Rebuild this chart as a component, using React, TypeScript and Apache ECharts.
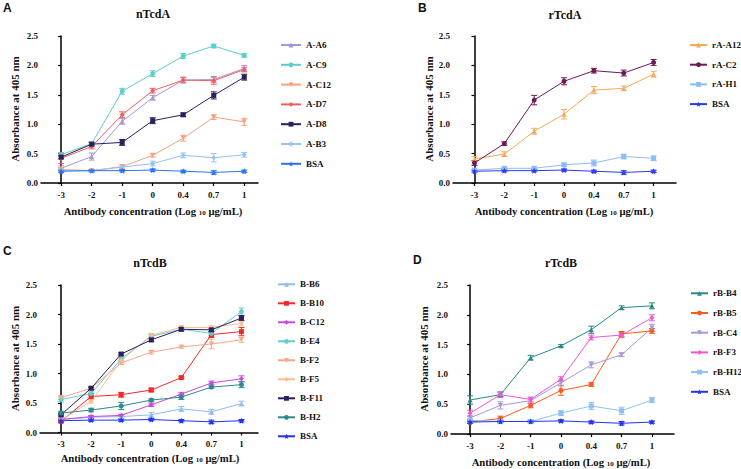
import React, { useEffect, useRef } from "react";
import * as echarts from "echarts";

const xLabels = ["-3", "-2", "-1", "0", "0.4", "0.7", "1"];
const yTicks = [0, 0.5, 1.0, 1.5, 2.0, 2.5];

// Panel A: nTcdA
const aNames = ["A-A6", "A-C9", "A-C12", "A-D7", "A-D8", "A-B3", "BSA"];
const aA6 = [0.25, 0.45, 1.05, 1.45, 1.75, 1.76, 1.95];
const aC9 = [0.48, 0.67, 1.56, 1.86, 2.16, 2.33, 2.17];
const aC12 = [0.23, 0.21, 0.28, 0.47, 0.76, 1.12, 1.04];
const aD7 = [0.42, 0.62, 1.16, 1.57, 1.75, 1.74, 1.93];
const aD8 = [0.44, 0.66, 0.69, 1.06, 1.16, 1.49, 1.8];
const aB3 = [0.21, 0.21, 0.27, 0.33, 0.47, 0.43, 0.48];
const aBSA = [0.2, 0.21, 0.21, 0.22, 0.2, 0.18, 0.2];
const aA6Err = [0.04, 0.06, 0.05, 0.04, 0.04, 0.05, 0.05];
const aC9Err = [0.03, 0.03, 0.05, 0.05, 0.04, 0.03, 0.03];
const aC12Err = [0.03, 0.02, 0.03, 0.03, 0.05, 0.04, 0.06];
const aD7Err = [0.09, 0.04, 0.05, 0.04, 0.05, 0.06, 0.04];
const aD8Err = [0.03, 0.03, 0.05, 0.05, 0.03, 0.06, 0.05];
const aB3Err = [0.03, 0.02, 0.04, 0.04, 0.04, 0.07, 0.04];
const aBSAErr = [0.02, 0.02, 0.02, 0.02, 0.02, 0.03, 0.02];

// Panel B: rTcdA
const bNames = ["rA-A12", "rA-C2", "rA-H1", "BSA"];
const bA12 = [0.41, 0.49, 0.88, 1.17, 1.58, 1.61, 1.85];
const bC2 = [0.34, 0.67, 1.41, 1.73, 1.91, 1.87, 2.05];
const bH1 = [0.22, 0.25, 0.25, 0.31, 0.34, 0.45, 0.42];
const bBSA = [0.2, 0.21, 0.21, 0.22, 0.2, 0.18, 0.2];
const bA12Err = [0.04, 0.04, 0.05, 0.08, 0.06, 0.04, 0.05];
const bC2Err = [0.04, 0.03, 0.08, 0.06, 0.04, 0.05, 0.05];
const bH1Err = [0.02, 0.02, 0.02, 0.03, 0.05, 0.04, 0.04];
const bBSAErr = [0.02, 0.02, 0.02, 0.02, 0.02, 0.03, 0.02];

// Panel C: nTcdB
const cNames = ["B-B6", "B-B10", "B-C12", "B-E4", "B-F2", "B-F5", "B-F11", "B-H2", "BSA"];
const cB6 = [0.22, 0.26, 0.27, 0.3, 0.4, 0.35, 0.49];
const cB10 = [0.19, 0.61, 0.64, 0.72, 0.93, 1.66, 1.71];
const cC12 = [0.22, 0.27, 0.29, 0.47, 0.65, 0.84, 0.91];
const cE4 = [0.56, 0.66, 1.25, 1.63, 1.75, 1.68, 2.05];
const cF2 = [0.59, 0.75, 1.18, 1.36, 1.45, 1.5, 1.57];
const cF5 = [0.21, 0.53, 1.22, 1.65, 1.78, 1.78, 1.85];
const cF11 = [0.3, 0.75, 1.33, 1.57, 1.75, 1.74, 1.94];
const cH2 = [0.33, 0.38, 0.45, 0.55, 0.6, 0.77, 0.81];
const cBSA = [0.2, 0.21, 0.21, 0.22, 0.2, 0.18, 0.2];
const cB6Err = [0.03, 0.02, 0.03, 0.04, 0.04, 0.04, 0.04];
const cB10Err = [0.02, 0.05, 0.04, 0.03, 0.02, 0.05, 0.07];
const cC12Err = [0.02, 0.02, 0.02, 0.03, 0.03, 0.03, 0.05];
const cE4Err = [0.04, 0.03, 0.03, 0.03, 0.02, 0.03, 0.06];
const cF2Err = [0.03, 0.02, 0.03, 0.03, 0.02, 0.08, 0.04];
const cF5Err = [0.02, 0.03, 0.04, 0.03, 0.03, 0.03, 0.04];
const cF11Err = [0.02, 0.02, 0.02, 0.03, 0.03, 0.03, 0.04];
const cH2Err = [0.03, 0.03, 0.06, 0.02, 0.04, 0.02, 0.05];
const cBSAErr = [0.02, 0.02, 0.02, 0.02, 0.02, 0.03, 0.02];

// Panel D: rTcdB
const dNames = ["rB-B4", "rB-B5", "rB-C4", "rB-F3", "rB-H12", "BSA"];
const dB4 = [0.57, 0.66, 1.28, 1.48, 1.75, 2.12, 2.15];
const dB5 = [0.2, 0.26, 0.48, 0.73, 0.83, 1.68, 1.73];
const dC4 = [0.27, 0.48, 0.56, 0.86, 1.16, 1.33, 1.78];
const dF3 = [0.35, 0.66, 0.58, 0.92, 1.62, 1.66, 1.95];
const dH12 = [0.23, 0.21, 0.21, 0.35, 0.47, 0.39, 0.57];
const dBSA = [0.2, 0.21, 0.21, 0.22, 0.2, 0.18, 0.2];
const dB4Err = [0.07, 0.03, 0.04, 0.02, 0.06, 0.03, 0.05];
const dB5Err = [0.02, 0.04, 0.04, 0.08, 0.03, 0.04, 0.04];
const dC4Err = [0.03, 0.06, 0.05, 0.04, 0.05, 0.03, 0.06];
const dF3Err = [0.05, 0.05, 0.04, 0.04, 0.04, 0.04, 0.05];
const dH12Err = [0.02, 0.02, 0.02, 0.04, 0.06, 0.06, 0.04];
const dBSAErr = [0.02, 0.02, 0.02, 0.02, 0.02, 0.03, 0.02];

const STAR =
  "path://M0,-10L2.9,-4L9.5,-3.1L4.8,1.5L5.9,8.1L0,5L-5.9,8.1L-4.8,1.5L-9.5,-3.1L-2.9,-4Z";
const SERIF = "'Liberation Serif', 'Times New Roman', serif";

type Sym = { symbol: string; rotate?: number; size?: number };
const triUp: Sym = { symbol: "triangle", size: 5 };
const triDown: Sym = { symbol: "triangle", rotate: 180, size: 5 };
const circ: Sym = { symbol: "circle", size: 5 };
const sq: Sym = { symbol: "rect", size: 5 };
const dia: Sym = { symbol: "diamond", size: 5 };
const star: Sym = { symbol: STAR, size: 6 };

const panels = [
  {
    key: "A", title: "nTcdA", names: aNames,
    values: [aA6, aC9, aC12, aD7, aD8, aB3, aBSA],
    errors: [aA6Err, aC9Err, aC12Err, aD7Err, aD8Err, aB3Err, aBSAErr],
    colors: ["#a596da", "#5ecccc", "#f7a27f", "#f25c5c", "#2d1e5e", "#94c3f4", "#2a74f2"],
    syms: [triUp, circ, triDown, dia, sq, dia, star],
    grid: { left: 41, top: 36, width: 217, height: 147 },
    xr: [-0.66, 6.45],
    legend: { left: 275, top: 35, itemWidth: 20, gap: 9.8 },
    titlePos: [153, 14], letterPos: [3, 8],
    yName: [15, 109], xName: [153, 211],
  },
  {
    key: "B", title: "rTcdA", names: bNames,
    values: [bA12, bC2, bH1, bBSA],
    errors: [bA12Err, bC2Err, bH1Err, bBSAErr],
    colors: ["#f6a85c", "#6c1a55", "#8dbdf4", "#2a3cf2"],
    syms: [triUp, circ, sq, star],
    grid: { left: 453, top: 36, width: 223, height: 147 },
    xr: [-0.72, 6.75],
    legend: { left: 684, top: 35, itemWidth: 17, gap: 9.7 },
    titlePos: [565, 15], letterPos: [418, 8],
    yName: [429, 109], xName: [564, 211],
  },
  {
    key: "C", title: "nTcdB", names: cNames,
    values: [cB6, cB10, cC12, cE4, cF2, cF5, cF11, cH2, cBSA],
    errors: [cB6Err, cB10Err, cC12Err, cE4Err, cF2Err, cF5Err, cF11Err, cH2Err, cBSAErr],
    colors: ["#90bbf0", "#f42828", "#c848e0", "#66cccc", "#f6a88a", "#f6bf8e", "#2c1f5e", "#2b8b8b", "#2233f0"],
    syms: [triUp, sq, dia, circ, triDown, dia, sq, circ, star],
    grid: { left: 40, top: 285, width: 218, height: 147.5 },
    xr: [-0.7, 6.55],
    legend: { left: 272, top: 274.3, itemWidth: 17, gap: 9 },
    titlePos: [150, 263], letterPos: [3, 251],
    yName: [15, 358.5], xName: [150, 458],
  },
  {
    key: "D", title: "rTcdB", names: dNames,
    values: [dB4, dB5, dC4, dF3, dH12, dBSA],
    errors: [dB4Err, dB5Err, dC4Err, dF3Err, dH12Err, dBSAErr],
    colors: ["#2a8888", "#ff5a1a", "#a898d8", "#f255d8", "#8fc0f5", "#2233f0"],
    syms: [triUp, circ, triDown, dia, sq, star],
    grid: { left: 451, top: 285, width: 223, height: 149 },
    xr: [-0.63, 6.73],
    legend: { left: 685, top: 283.3, itemWidth: 17, gap: 9.7 },
    titlePos: [561, 263], letterPos: [413, 260],
    yName: [424, 359], xName: [561, 461.5],
  },
];

export default function App() {
  const ref = useRef<HTMLDivElement>(null);
  useEffect(() => {
    document.body.style.margin = "0";
    if (!ref.current) return;
    const chart = echarts.init(ref.current, null, { renderer: "svg" });

    const grids: any[] = [];
    const xAxes: any[] = [];
    const yAxes: any[] = [];
    const legends: any[] = [];
    const series: any[] = [];
    const graphics: any[] = [];
    const idx = [0, 1, 2, 3, 4, 5, 6];

    panels.forEach((p, pi) => {
      grids.push({ ...p.grid, containLabel: false });
      xAxes.push({
        type: "value",
        gridIndex: pi,
        min: p.xr[0],
        max: p.xr[1],
        axisLine: { lineStyle: { color: "#000", width: 1.5 } },
        axisTick: { show: true, customValues: idx, length: 3, lineStyle: { color: "#000", width: 1.2 } },
        axisLabel: {
          customValues: idx,
          formatter: (v: number) => xLabels[Math.round(v)] ?? "",
          fontFamily: SERIF,
          fontWeight: "bold",
          fontSize: 9,
          color: "#111",
          margin: 7,
        },
        splitLine: { show: false },
      });
      yAxes.push({
        type: "value",
        gridIndex: pi,
        min: 0,
        max: 2.5,
        interval: 0.5,
        axisLine: { show: true, lineStyle: { color: "#000", width: 1.5 } },
        axisTick: { show: true, length: 3, lineStyle: { color: "#000", width: 1.2 } },
        axisLabel: {
          formatter: (v: number) => v.toFixed(1),
          fontFamily: SERIF,
          fontWeight: "bold",
          fontSize: 9,
          color: "#111",
          margin: 3,
        },
        splitLine: { show: false },
      });
      const internal = p.names.map((n) => `${p.key}:${n}`);
      legends.push({
        data: internal,
        orient: "vertical",
        left: p.legend.left,
        top: p.legend.top,
        itemWidth: p.legend.itemWidth,
        itemHeight: 6,
        itemGap: p.legend.gap,
        selectedMode: false,
        formatter: (n: string) => n.split(":").slice(1).join(":"),
        textStyle: { fontFamily: SERIF, fontWeight: "bold", fontSize: 9, color: "#111", lineHeight: 10 },
      });
      p.names.forEach((n, si) => {
        const s = p.syms[si];
        series.push({
          type: "line",
          name: internal[si],
          xAxisIndex: pi,
          yAxisIndex: pi,
          data: p.values[si].map((v, i) => [i, v]),
          symbol: s.symbol,
          symbolSize: s.size,
          symbolRotate: s.rotate ?? 0,
          itemStyle: { color: p.colors[si] },
          lineStyle: { color: p.colors[si], width: 1 },
          z: 3,
        });
      });
      const errData: number[][] = [];
      p.values.forEach((vals, si) => {
        vals.forEach((v, i) => errData.push([i, v, p.errors[si][i], si]));
      });
      const cols = p.colors;
      series.push({
        type: "custom",
        xAxisIndex: pi,
        yAxisIndex: pi,
        data: errData,
        encode: { x: 0, y: 1 },
        z: 2,
        renderItem: (_params: any, api: any) => {
          const x = api.value(0);
          const y = api.value(1);
          const e = api.value(2);
          const c = cols[api.value(3)];
          const t = api.coord([x, y + e]);
          const b = api.coord([x, y - e]);
          const hw = 3;
          const st = { stroke: c, lineWidth: 1 };
          return {
            type: "group",
            children: [
              { type: "line", shape: { x1: t[0], y1: t[1], x2: b[0], y2: b[1] }, style: st },
              { type: "line", shape: { x1: t[0] - hw, y1: t[1], x2: t[0] + hw, y2: t[1] }, style: st },
              { type: "line", shape: { x1: b[0] - hw, y1: b[1], x2: b[0] + hw, y2: b[1] }, style: st },
            ],
          };
        },
      });

      graphics.push({
        type: "text",
        x: p.titlePos[0],
        y: p.titlePos[1],
        style: {
          text: p.title,
          font: `bold 12px ${SERIF}`,
          fill: "#111",
          textAlign: "center",
          textVerticalAlign: "middle",
        },
      });
      graphics.push({
        type: "text",
        x: p.letterPos[0],
        y: p.letterPos[1],
        style: {
          text: p.key,
          font: "bold 12px 'Liberation Sans', Arial, sans-serif",
          fill: "#111",
          textAlign: "left",
          textVerticalAlign: "middle",
        },
      });
      graphics.push({
        type: "text",
        x: p.yName[0],
        y: p.yName[1],
        rotation: Math.PI / 2,
        style: {
          text: "Absorbance at 405 nm",
          font: `bold 11px ${SERIF}`,
          fill: "#111",
          textAlign: "center",
          textVerticalAlign: "middle",
        },
      });
      graphics.push({
        type: "text",
        x: p.xName[0],
        y: p.xName[1],
        style: {
          text: "Antibody concentration (Log {sub|10} μg/mL)",
          font: `bold 10.7px ${SERIF}`,
          fill: "#111",
          textAlign: "center",
          textVerticalAlign: "middle",
          rich: {
            sub: { font: `bold 7px ${SERIF}`, fill: "#111", verticalAlign: "bottom", padding: [3, 0, 0, 0] },
          },
        },
      });
    });

    chart.setOption({
      animation: false,
      backgroundColor: "#fff",
      grid: grids,
      xAxis: xAxes,
      yAxis: yAxes,
      legend: legends,
      series,
      graphic: graphics,
    });
    return () => chart.dispose();
  }, []);
  return <div ref={ref} style={{ width: 741, height: 469 }} />;
}
